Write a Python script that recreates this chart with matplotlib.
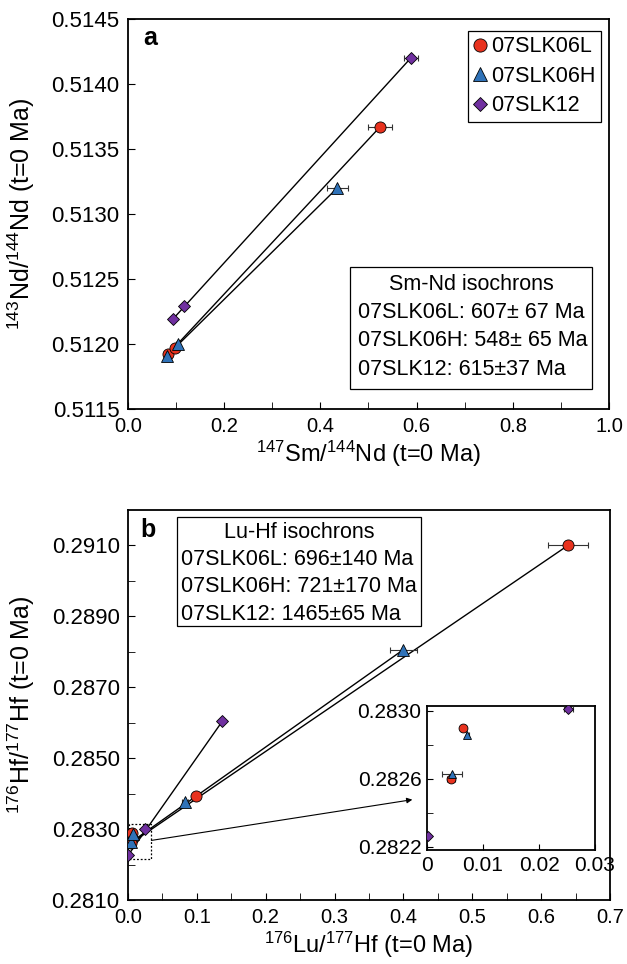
"""Sm-Nd and Lu-Hf isochron diagrams (panels a and b)."""

import matplotlib

matplotlib.use("Agg")
import matplotlib.pyplot as plt  # noqa: E402
from matplotlib.patches import Rectangle  # noqa: E402
from matplotlib.ticker import MultipleLocator, FixedLocator  # noqa: E402

plt.rcParams["font.family"] = ["Liberation Sans", "DejaVu Sans"]
plt.rcParams["mathtext.default"] = "regular"
plt.rcParams["font.size"] = 15

# sample names
samples = ["07SLK06L", "07SLK06H", "07SLK12"]

# panel a: 147Sm/144Nd vs 143Nd/144Nd
a_06L_x = [0.083, 0.098, 0.524]
a_06L_y = [0.51192, 0.51197, 0.51367]
a_06L_xerr = [0.004, 0.004, 0.024]
a_06H_x = [0.081, 0.103, 0.435]
a_06H_y = [0.51191, 0.51200, 0.51320]
a_06H_xerr = [0.003, 0.003, 0.022]
a_12_x = [0.093, 0.117, 0.588]
a_12_y = [0.51219, 0.51229, 0.51420]
a_12_xerr = [0.003, 0.003, 0.014]

# panel b: 176Lu/177Hf vs 176Hf/177Hf
b_06L_x = [0.0043, 0.0065, 0.099, 0.639]
b_06L_y = [0.28260, 0.28290, 0.28393, 0.29100]
b_06L_xerr = [0.0007, 0.0004, 0.005, 0.0295]
b_06H_x = [0.0045, 0.0072, 0.083, 0.400]
b_06H_y = [0.28263, 0.28286, 0.28376, 0.28806]
b_06H_xerr = [0.0018, 0.0003, 0.004, 0.0194]
b_12_x = [0.0002, 0.0252, 0.137]
b_12_y = [0.28226, 0.28301, 0.28604]
b_12_xerr = [0.0003, 0.0008, 0.003]

a_ages = ["607\u00b1 67 Ma", "548\u00b1 65 Ma", "615\u00b137 Ma"]
b_ages = ["696\u00b1140 Ma", "721\u00b1170 Ma", "1465\u00b165 Ma"]

colors = ["#e8321e", "#2f72b8", "#7030a0"]
markers = ["o", "^", "D"]
msizes = [8, 8, 6]


def style_axis(ax, xsize=14.5, ysize=16):
    ax.tick_params(which="both", direction="in", top=False, right=False, pad=6)
    ax.tick_params(axis="x", labelsize=xsize)
    ax.tick_params(axis="y", labelsize=ysize)
    ax.tick_params(which="both", length=5)
    for s in ax.spines.values():
        s.set_linewidth(1.3)


def draw_series(ax, xs, ys, xerrs, scale=1.0, lines=True):
    for x, y, xe, c, m, ms in zip(xs, ys, xerrs, colors, markers, msizes):
        if lines:
            ax.plot([x[0], x[-1]], [y[0], y[-1]], color="black", lw=1, zorder=2)
        ax.errorbar(x, y, xerr=xe, fmt="none", ecolor="#333333", elinewidth=0.8,
                    capsize=2, capthick=0.8, zorder=3)
        ax.plot(x, y, ls="none", marker=m, ms=ms * scale, mfc=c, mec="black",
                mew=0.6, zorder=4)


fig = plt.figure(figsize=(6.27, 9.64), dpi=100)

# ---- panel a
ax = fig.add_axes([0.2041, 0.5757, 0.7672, 0.4046])
draw_series(ax, [a_06L_x, a_06H_x, a_12_x], [a_06L_y, a_06H_y, a_12_y],
            [a_06L_xerr, a_06H_xerr, a_12_xerr])
ax.set_xlim(0, 1.0)
ax.set_ylim(0.5115, 0.5145)
ax.xaxis.set_major_locator(MultipleLocator(0.2))
ax.xaxis.set_minor_locator(MultipleLocator(0.1))
ax.yaxis.set_major_locator(MultipleLocator(0.0005))
ax.xaxis.set_major_formatter(plt.FuncFormatter(lambda v, p: f"{v:.1f}"))
ax.yaxis.set_major_formatter(plt.FuncFormatter(lambda v, p: f"{v:.4f}"))
style_axis(ax)
ax.set_xlabel(r"$^{147}$Sm/$^{144}$Nd (t=0 Ma)", fontsize=17, labelpad=2)
ax.set_ylabel(r"$^{143}$Nd/$^{144}$Nd (t=0 Ma)", fontsize=18)
ax.yaxis.set_label_coords(-0.19, 0.5)
ax.text(0.046, 0.951, "a", transform=ax.transAxes, fontsize=18,
        fontweight="bold", ha="center", va="center")

handles = [plt.Line2D([], [], ls="none", marker=m, ms=ms + 1.5, mfc=c, mec="black",
                      mew=0.6) for c, m, ms in zip(colors, markers, msizes)]
leg = ax.legend(handles, samples, loc="upper right", fontsize=15.5,
                handlelength=0.6, handletextpad=0.2, borderpad=0.25,
                labelspacing=0.4, borderaxespad=0, fancybox=False, framealpha=1,
                edgecolor="black", bbox_to_anchor=(0.983, 0.970))
leg.get_frame().set_linewidth(0.9)

ax.add_patch(Rectangle((0.4615, 0.0505), 0.5032, 0.3145, transform=ax.transAxes,
                       fill=False, ec="black", lw=0.9))
ax.text(0.713, 0.318, "Sm-Nd isochrons", transform=ax.transAxes, fontsize=15.5,
        ha="center", va="center")
for i, (s, t) in enumerate(zip(samples, a_ages)):
    ax.text(0.479, 0.247 - i * 0.0725, f"{s}: {t}", transform=ax.transAxes,
            fontsize=15.5, ha="left", va="center")

# ---- panel b
bx = fig.add_axes([0.2041, 0.0664, 0.7687, 0.4046])
draw_series(bx, [b_06L_x, b_06H_x, b_12_x], [b_06L_y, b_06H_y, b_12_y],
            [b_06L_xerr, b_06H_xerr, b_12_xerr])
bx.set_xlim(0, 0.7)
bx.set_ylim(0.2810, 0.2920)
bx.xaxis.set_major_locator(MultipleLocator(0.1))
bx.xaxis.set_minor_locator(MultipleLocator(0.05))
bx.yaxis.set_major_locator(FixedLocator([0.281, 0.283, 0.285, 0.287, 0.289, 0.291]))
bx.yaxis.set_minor_locator(FixedLocator([0.282, 0.284, 0.286, 0.288, 0.290]))
bx.xaxis.set_major_formatter(plt.FuncFormatter(lambda v, p: f"{v:.1f}"))
bx.yaxis.set_major_formatter(plt.FuncFormatter(lambda v, p: f"{v:.4f}"))
style_axis(bx)
bx.set_xlabel(r"$^{176}$Lu/$^{177}$Hf (t=0 Ma)", fontsize=17, labelpad=2)
bx.set_ylabel(r"$^{176}$Hf/$^{177}$Hf (t=0 Ma)", fontsize=18)
bx.yaxis.set_label_coords(-0.189, 0.5)
bx.text(0.042, 0.949, "b", transform=bx.transAxes, fontsize=18,
        fontweight="bold", ha="center", va="center")

bx.add_patch(Rectangle((0.1023, 0.7026), 0.5047, 0.2804, transform=bx.transAxes,
                       fill=False, ec="black", lw=0.9))
bx.text(0.355, 0.942, "Lu-Hf isochrons", transform=bx.transAxes, fontsize=15.5,
        ha="center", va="center")
for i, (s, t) in enumerate(zip(samples, b_ages)):
    bx.text(0.111, 0.874 - i * 0.0715, f"{s}: {t}", transform=bx.transAxes,
            fontsize=15.5, ha="left", va="center")

# zoom box and arrow to inset
bx.add_patch(Rectangle((0.0015, 0.28215), 0.0325, 0.0010, fill=False, ec="black",
                       lw=0.9, ls=(0, (1.5, 1.5)), zorder=1))
bx.annotate("", xy=(0.413, 0.28383), xytext=(0.034, 0.28268),
            arrowprops=dict(arrowstyle="-|>", color="black", lw=0.8,
                            mutation_scale=8, shrinkA=0, shrinkB=0))

# ---- inset
ix = fig.add_axes([0.681, 0.1183, 0.268, 0.1497])
draw_series(ix, [b_06L_x[:2], b_06H_x[:2], b_12_x[:2]],
            [b_06L_y[:2], b_06H_y[:2], b_12_y[:2]],
            [b_06L_xerr[:2], b_06H_xerr[:2], b_12_xerr[:2]], scale=0.8, lines=False)
ix.set_xlim(0, 0.03)
ix.set_ylim(0.28218, 0.28303)
ix.xaxis.set_major_locator(FixedLocator([0, 0.01, 0.02, 0.03]))
ix.yaxis.set_major_locator(FixedLocator([0.2822, 0.2826, 0.2830]))
ix.yaxis.set_minor_locator(FixedLocator([0.2824, 0.2828]))
ix.xaxis.set_major_formatter(plt.FuncFormatter(lambda v, p: "0" if v == 0 else f"{v:.2f}"))
ix.yaxis.set_major_formatter(plt.FuncFormatter(lambda v, p: f"{v:.4f}"))
style_axis(ix, xsize=15, ysize=15)
ix.tick_params(which="both", length=4, pad=4)

fig.savefig("out.png", dpi=100)
